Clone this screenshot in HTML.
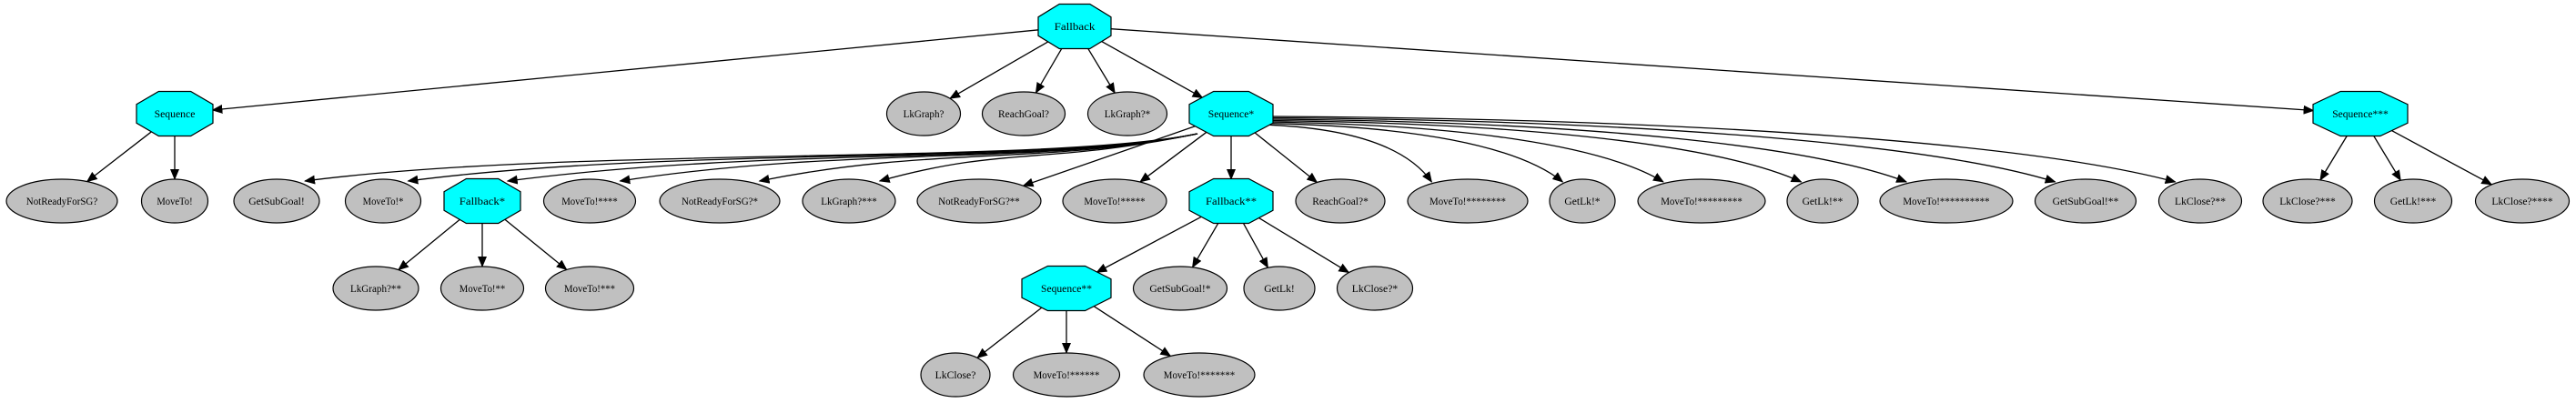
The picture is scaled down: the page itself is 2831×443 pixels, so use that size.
<!DOCTYPE html>
<html><head><meta charset="utf-8"><style>
html,body{margin:0;padding:0;background:#fff;}
svg{display:block;}
text{font-family:"Liberation Serif",serif;font-size:12px;}
</style></head><body>
<svg id="s" width="2831" height="443" viewBox="0 0 2831 443" xmlns="http://www.w3.org/2000/svg">
<defs><marker id="a" markerWidth="12" markerHeight="10" refX="11" refY="5" orient="auto" markerUnits="userSpaceOnUse"><path d="M0,0 L12,5 L0,10 z" fill="#000"/></marker></defs>
<g id="e"></g><g id="n"></g>
</svg>
<script>
var R=[29,125,221,317,412];
var N={
FB:[1181,0,80,'Fallback',1],
SEQ:[192,1,84,'Sequence',1],
LG1:[1015,1,81,'LkGraph?'],
RG1:[1125,1,91,'ReachGoal?'],
LG2:[1239,1,87,'LkGraph?*'],
SQ1:[1353,1,92,'Sequence*',1],
SQ3:[2594,1,104,'Sequence***',1],
NR1:[68,2,122,'NotReadyForSG?'],
MT1:[192,2,73,'MoveTo!'],
GS1:[304,2,94,'GetSubGoal!'],
MT2:[421,2,83,'MoveTo!*'],
FB1:[530,2,84,'Fallback*',1],
MT4:[648,2,101,'MoveTo!****'],
NR2:[791,2,132,'NotReadyForSG?*'],
LG4:[933,2,102,'LkGraph?***'],
NR3:[1076,2,136,'NotReadyForSG?**'],
MT5:[1225,2,114,'MoveTo!*****'],
FB2:[1353,2,92,'Fallback**',1],
RG2:[1473,2,98,'ReachGoal?*'],
MT8:[1613,2,132,'MoveTo!********'],
GL1:[1739,2,72,'GetLk!*'],
MT9:[1870,2,140,'MoveTo!*********'],
GL2:[2003,2,78,'GetLk!**'],
MT10:[2139,2,146,'MoveTo!**********'],
GS3:[2292,2,111,'GetSubGoal!**'],
LC2:[2418,2,91,'LkClose?**'],
LC3:[2536,2,98,'LkClose?***'],
GL3:[2652,2,85,'GetLk!***'],
LC4:[2772,2,103,'LkClose?****'],
LG3:[413,3,94,'LkGraph?**'],
MT3a:[530,3,91,'MoveTo!**'],
MT3b:[648,3,97,'MoveTo!***'],
SQ2:[1172,3,98,'Sequence**',1],
GS2:[1297,3,103,'GetSubGoal!*'],
GL0:[1406,3,78,'GetLk!'],
LC1:[1511,3,83,'LkClose?*'],
LC0:[1050,4,76,'LkClose?'],
MT6:[1172,4,117,'MoveTo!******'],
MT7:[1318,4,122,'MoveTo!*******']
};
var S=[['FB','SEQ'],['FB','LG1'],['FB','RG1'],['FB','LG2'],['FB','SQ1'],['FB','SQ3'],
['SEQ','NR1'],['SEQ','MT1'],['SQ1','MT5'],['SQ1','FB2'],['SQ1','RG2'],['SQ1','NR3'],
['SQ3','LC3'],['SQ3','GL3'],['SQ3','LC4'],['FB1','LG3'],['FB1','MT3a'],['FB1','MT3b'],
['FB2','SQ2'],['FB2','GS2'],['FB2','GL0'],['FB2','LC1'],['SQ2','LC0'],['SQ2','MT6'],['SQ2','MT7']];
var CL=['GS1','MT2','FB1','MT4','NR2','LG4'];
var CR=['MT8','GL1','MT9','GL2','MT10','GS3','LC2'];
var H=48,ns='http://www.w3.org/2000/svg';
function el(t,a,p){var e=document.createElementNS(ns,t);for(var k in a)e.setAttribute(k,a[k]);p.appendChild(e);return e;}
var E=document.getElementById('e'),G=document.getElementById('n');
function cl(n,dx,dy){var rx=n[2]/2,ry=24;return 1/Math.sqrt((dx/rx)*(dx/rx)+(dy/ry)*(dy/ry));}
S.forEach(function(p){var a=N[p[0]],b=N[p[1]];var ax=a[0],ay=R[a[1]],bx=b[0],by=R[b[1]];var dx=bx-ax,dy=by-ay;
var t1=cl(a,dx,dy),t2=cl(b,dx,dy);
el('line',{x1:ax+dx*t1,y1:ay+dy*t1,x2:bx-dx*t2,y2:by-dy*t2,stroke:'#000','stroke-width':1.3,'marker-end':'url(#a)'},E);});
CL.forEach(function(k,i){var b=N[k];var bx=b[0]+b[2]*0.33,by=R[2]-22;
var sx=1316,sy=147;
el('path',{d:'M'+sx+','+sy+' C'+(sx-170)+','+182+' '+(bx+Math.min(300,(sx-bx)*0.4))+','+160+' '+bx+','+by,fill:'none',stroke:'#000','stroke-width':1.3,'marker-end':'url(#a)'},E);});
CR.forEach(function(k,i){var b=N[k];var bx=b[0]-b[2]*0.3,by=R[2]-21;
var sx=1386+i*2,sy=137-i*1.5;
el('path',{d:'M'+sx+','+sy+' C'+(sx+(bx-sx)*0.5)+','+(sy+3)+' '+(bx-(bx-sx)*0.15)+','+(by-40)+' '+bx+','+by,fill:'none',stroke:'#000','stroke-width':1.3,'marker-end':'url(#a)'},E);});
for(var k in N){var n=N[k];var x=n[0],y=R[n[1]],w=n[2];
if(n[4]){var h=49,hw=w/2,hh=h/2,cx=hw*0.42,cy=hh*0.42;
el('polygon',{points:[[x-cx,y-hh],[x+cx,y-hh],[x+hw,y-cy],[x+hw,y+cy],[x+cx,y+hh],[x-cx,y+hh],[x-hw,y+cy],[x-hw,y-cy]].map(function(q){return q.join(',')}).join(' '),fill:'#00ffff',stroke:'#000','stroke-width':1.2},G);}
else el('ellipse',{cx:x,cy:y,rx:w/2,ry:H/2,fill:'#c0c0c0',stroke:'#000','stroke-width':1.2},G);
var t=el('text',{x:x,y:y+4,'text-anchor':'middle'},G);t.textContent=n[3];
var tw=n[3].length*5.6;t.setAttribute('textLength',Math.min(tw,w-14));t.setAttribute('lengthAdjust','spacingAndGlyphs');}
</script>
</body></html>
